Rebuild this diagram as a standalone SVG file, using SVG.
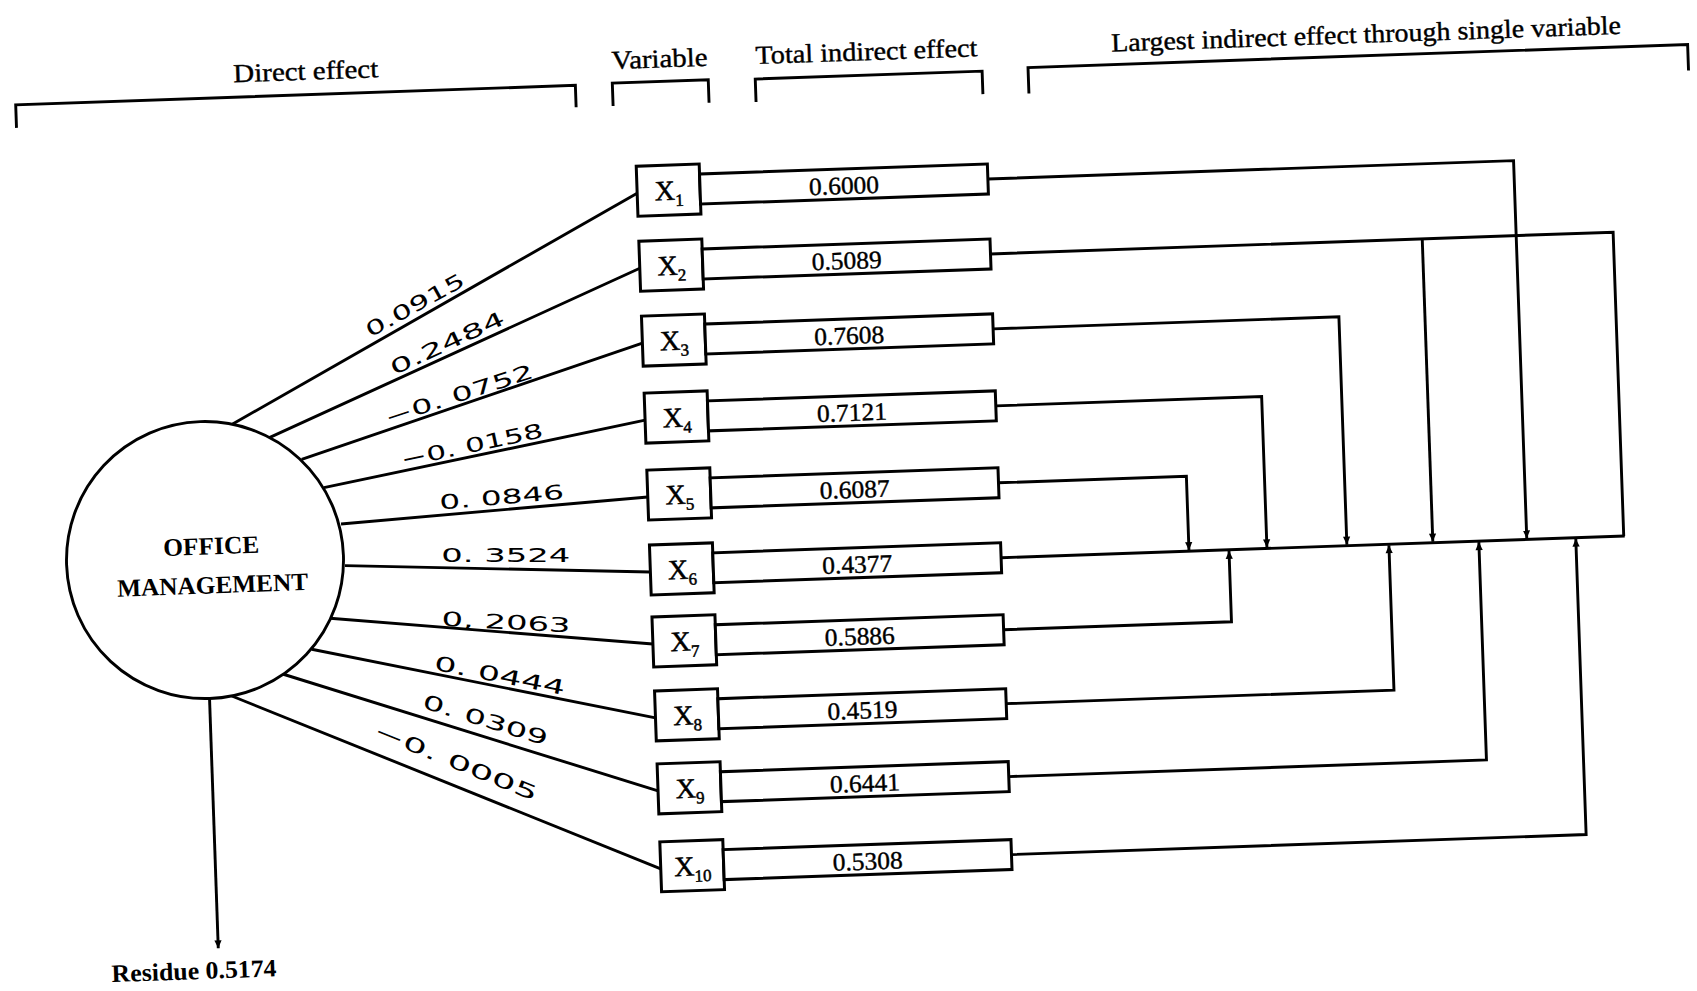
<svg xmlns="http://www.w3.org/2000/svg" width="1697" height="991" viewBox="0 0 1697 991">
<defs>
<style>
.ln{fill:none;stroke:#000;stroke-width:2.9}
.bx{fill:#fff;stroke:#000;stroke-width:3}
.hd{font-family:"Liberation Serif",serif;font-size:26px;fill:#000;stroke:#000;stroke-width:0.4;text-anchor:middle}
.xl{font-family:"Liberation Serif",serif;font-size:28px;fill:#000;stroke:#000;stroke-width:0.5;text-anchor:middle}
.sub{font-size:17px}
.val{font-family:"Liberation Serif",serif;font-size:25px;fill:#000;stroke:#000;stroke-width:0.4;text-anchor:middle}
.hw{font-family:"DejaVu Sans",sans-serif;font-size:20px;fill:#000;text-anchor:middle}
.bt{font-family:"Liberation Serif",serif;font-weight:bold;font-size:25px;fill:#000;text-anchor:middle}
</style>
<marker id="ah" viewBox="0 0 10 10" refX="10" refY="5" markerWidth="11" markerHeight="8" orient="auto" markerUnits="userSpaceOnUse">
<path d="M0,0.5 L10,5 L0,9.5 z" fill="#000"/>
</marker>
</defs>
<rect width="1697" height="991" fill="#fff"/>
<g transform="rotate(-2 850 500)">
<g id="headers">
<text class="hd" x="321" y="61" textLength="145" lengthAdjust="spacingAndGlyphs">Direct effect</text>
<path class="ln" d="M30,99 V76 H590 V98"/>
<text class="hd" x="675" y="61" textLength="96" lengthAdjust="spacingAndGlyphs">Variable</text>
<path class="ln" d="M627,98 V75 H723 V98"/>
<text class="hd" x="882" y="61" textLength="222" lengthAdjust="spacingAndGlyphs">Total indirect effect</text>
<path class="ln" d="M770,99 V76 H997 V99"/>
<text class="hd" x="1382" y="61" textLength="510" lengthAdjust="spacingAndGlyphs">Largest indirect effect through single variable</text>
<path class="ln" d="M1043,100 V74 H1703 V100"/>
</g>
<g id="connectors">
<path class="ln" d="M235.7,402.5 L648,186"/>
<path class="ln" d="M271.9,417.4 L648,261"/>
<path class="ln" d="M303.4,440.2 L648,336"/>
<path class="ln" d="M324.7,469.3 L648,413"/>
<path class="ln" d="M340.5,506.2 L648,490"/>
<path class="ln" d="M343,548 L648,565"/>
<path class="ln" d="M326.2,600.1 L648,637"/>
<path class="ln" d="M306.8,630.4 L648,711"/>
<path class="ln" d="M276.9,654.1 L648,784"/>
<path class="ln" d="M225.3,674.3 L648,862"/>
<path class="ln" d="M203,676 V926" stroke-width="2" marker-end="url(#ah)"/>
<path class="ln" d="M999,184 H1525 V562" marker-end="url(#ah)"/>
<path class="ln" d="M999,259 H1622 V563"/>
<path class="ln" d="M1431,259 V562" stroke-width="2.4" marker-end="url(#ah)"/>
<path class="ln" d="M999,334 H1345 V562" marker-end="url(#ah)"/>
<path class="ln" d="M999,411 H1265 V562" marker-end="url(#ah)"/>
<path class="ln" d="M999,488 H1187 V562" marker-end="url(#ah)"/>
<path class="ln" d="M999,563 H1623"/>
<path class="ln" d="M999,635 H1227 V564" marker-end="url(#ah)"/>
<path class="ln" d="M999,709 H1387 V564" marker-end="url(#ah)"/>
<path class="ln" d="M999,782 H1477 V564" marker-end="url(#ah)"/>
<path class="ln" d="M999,860 H1574 V564" marker-end="url(#ah)"/>
</g>
<g id="edge-labels">
<text class="hw" transform="translate(422,290) rotate(-27)" y="7" textLength="110" lengthAdjust="spacingAndGlyphs">0.0915</text>
<text class="hw" transform="translate(453,329) rotate(-23)" y="7" textLength="124" lengthAdjust="spacingAndGlyphs">0.2484</text>
<text class="hw" transform="translate(463,381) rotate(-16)" y="7" textLength="155" lengthAdjust="spacingAndGlyphs">−0. 0752</text>
<text class="hw" transform="translate(474,432) rotate(-10)" y="7" textLength="145" lengthAdjust="spacingAndGlyphs">−0. 0158</text>
<text class="hw" transform="translate(502,485) rotate(-3)" y="7" textLength="125" lengthAdjust="spacingAndGlyphs">0. 0846</text>
<text class="hw" transform="translate(504,543) rotate(2)" y="7" textLength="129" lengthAdjust="spacingAndGlyphs">0. 3524</text>
<text class="hw" transform="translate(502,610) rotate(5)" y="7" textLength="129" lengthAdjust="spacingAndGlyphs">0, 2063</text>
<text class="hw" transform="translate(494,663) rotate(13)" y="7" textLength="133" lengthAdjust="spacingAndGlyphs">0. 0444</text>
<text class="hw" transform="translate(478,707) rotate(19)" y="7" textLength="130" lengthAdjust="spacingAndGlyphs">0. 0309</text>
<text class="hw" transform="translate(447,748) rotate(24)" y="7" textLength="175" lengthAdjust="spacingAndGlyphs">−0. 0005</text>
</g>
<g id="office-management">
<circle cx="203.3" cy="537.5" r="138.5" fill="#fff" stroke="#000" stroke-width="2.9"/>
<text class="bt" x="210" y="532" textLength="96" lengthAdjust="spacingAndGlyphs">OFFICE</text>
<text class="bt" x="210" y="571" textLength="191" lengthAdjust="spacingAndGlyphs">MANAGEMENT</text>
</g>
<g id="residue">
<text class="bt" x="178" y="956" textLength="165" lengthAdjust="spacingAndGlyphs">Residue 0.5174</text>
</g>
<g id="x1"><rect class="bx" x="648" y="159" width="63" height="50"/><rect class="bx" x="711" y="169" width="288" height="30"/><text class="xl" x="680" y="194">X<tspan class="sub" dy="6">1</tspan></text><text class="val" x="855" y="194" textLength="70" lengthAdjust="spacingAndGlyphs">0.6000</text></g>
<g id="x2"><rect class="bx" x="648" y="234" width="63" height="50"/><rect class="bx" x="711" y="244" width="288" height="30"/><text class="xl" x="680" y="269">X<tspan class="sub" dy="6">2</tspan></text><text class="val" x="855" y="269" textLength="70" lengthAdjust="spacingAndGlyphs">0.5089</text></g>
<g id="x3"><rect class="bx" x="648" y="309" width="63" height="50"/><rect class="bx" x="711" y="319" width="288" height="30"/><text class="xl" x="680" y="344">X<tspan class="sub" dy="6">3</tspan></text><text class="val" x="855" y="344" textLength="70" lengthAdjust="spacingAndGlyphs">0.7608</text></g>
<g id="x4"><rect class="bx" x="648" y="386" width="63" height="50"/><rect class="bx" x="711" y="396" width="288" height="30"/><text class="xl" x="680" y="421">X<tspan class="sub" dy="6">4</tspan></text><text class="val" x="855" y="421" textLength="70" lengthAdjust="spacingAndGlyphs">0.7121</text></g>
<g id="x5"><rect class="bx" x="648" y="463" width="63" height="50"/><rect class="bx" x="711" y="473" width="288" height="30"/><text class="xl" x="680" y="498">X<tspan class="sub" dy="6">5</tspan></text><text class="val" x="855" y="498" textLength="70" lengthAdjust="spacingAndGlyphs">0.6087</text></g>
<g id="x6"><rect class="bx" x="648" y="538" width="63" height="50"/><rect class="bx" x="711" y="548" width="288" height="30"/><text class="xl" x="680" y="573">X<tspan class="sub" dy="6">6</tspan></text><text class="val" x="855" y="573" textLength="70" lengthAdjust="spacingAndGlyphs">0.4377</text></g>
<g id="x7"><rect class="bx" x="648" y="610" width="63" height="50"/><rect class="bx" x="711" y="620" width="288" height="30"/><text class="xl" x="680" y="645">X<tspan class="sub" dy="6">7</tspan></text><text class="val" x="855" y="645" textLength="70" lengthAdjust="spacingAndGlyphs">0.5886</text></g>
<g id="x8"><rect class="bx" x="648" y="684" width="63" height="50"/><rect class="bx" x="711" y="694" width="288" height="30"/><text class="xl" x="680" y="719">X<tspan class="sub" dy="6">8</tspan></text><text class="val" x="855" y="719" textLength="70" lengthAdjust="spacingAndGlyphs">0.4519</text></g>
<g id="x9"><rect class="bx" x="648" y="757" width="63" height="50"/><rect class="bx" x="711" y="767" width="288" height="30"/><text class="xl" x="680" y="792">X<tspan class="sub" dy="6">9</tspan></text><text class="val" x="855" y="792" textLength="70" lengthAdjust="spacingAndGlyphs">0.6441</text></g>
<g id="x10"><rect class="bx" x="648" y="835" width="63" height="50"/><rect class="bx" x="711" y="845" width="288" height="30"/><text class="xl" x="680" y="870">X<tspan class="sub" dy="6">10</tspan></text><text class="val" x="855" y="870" textLength="70" lengthAdjust="spacingAndGlyphs">0.5308</text></g>
</g>
</svg>
